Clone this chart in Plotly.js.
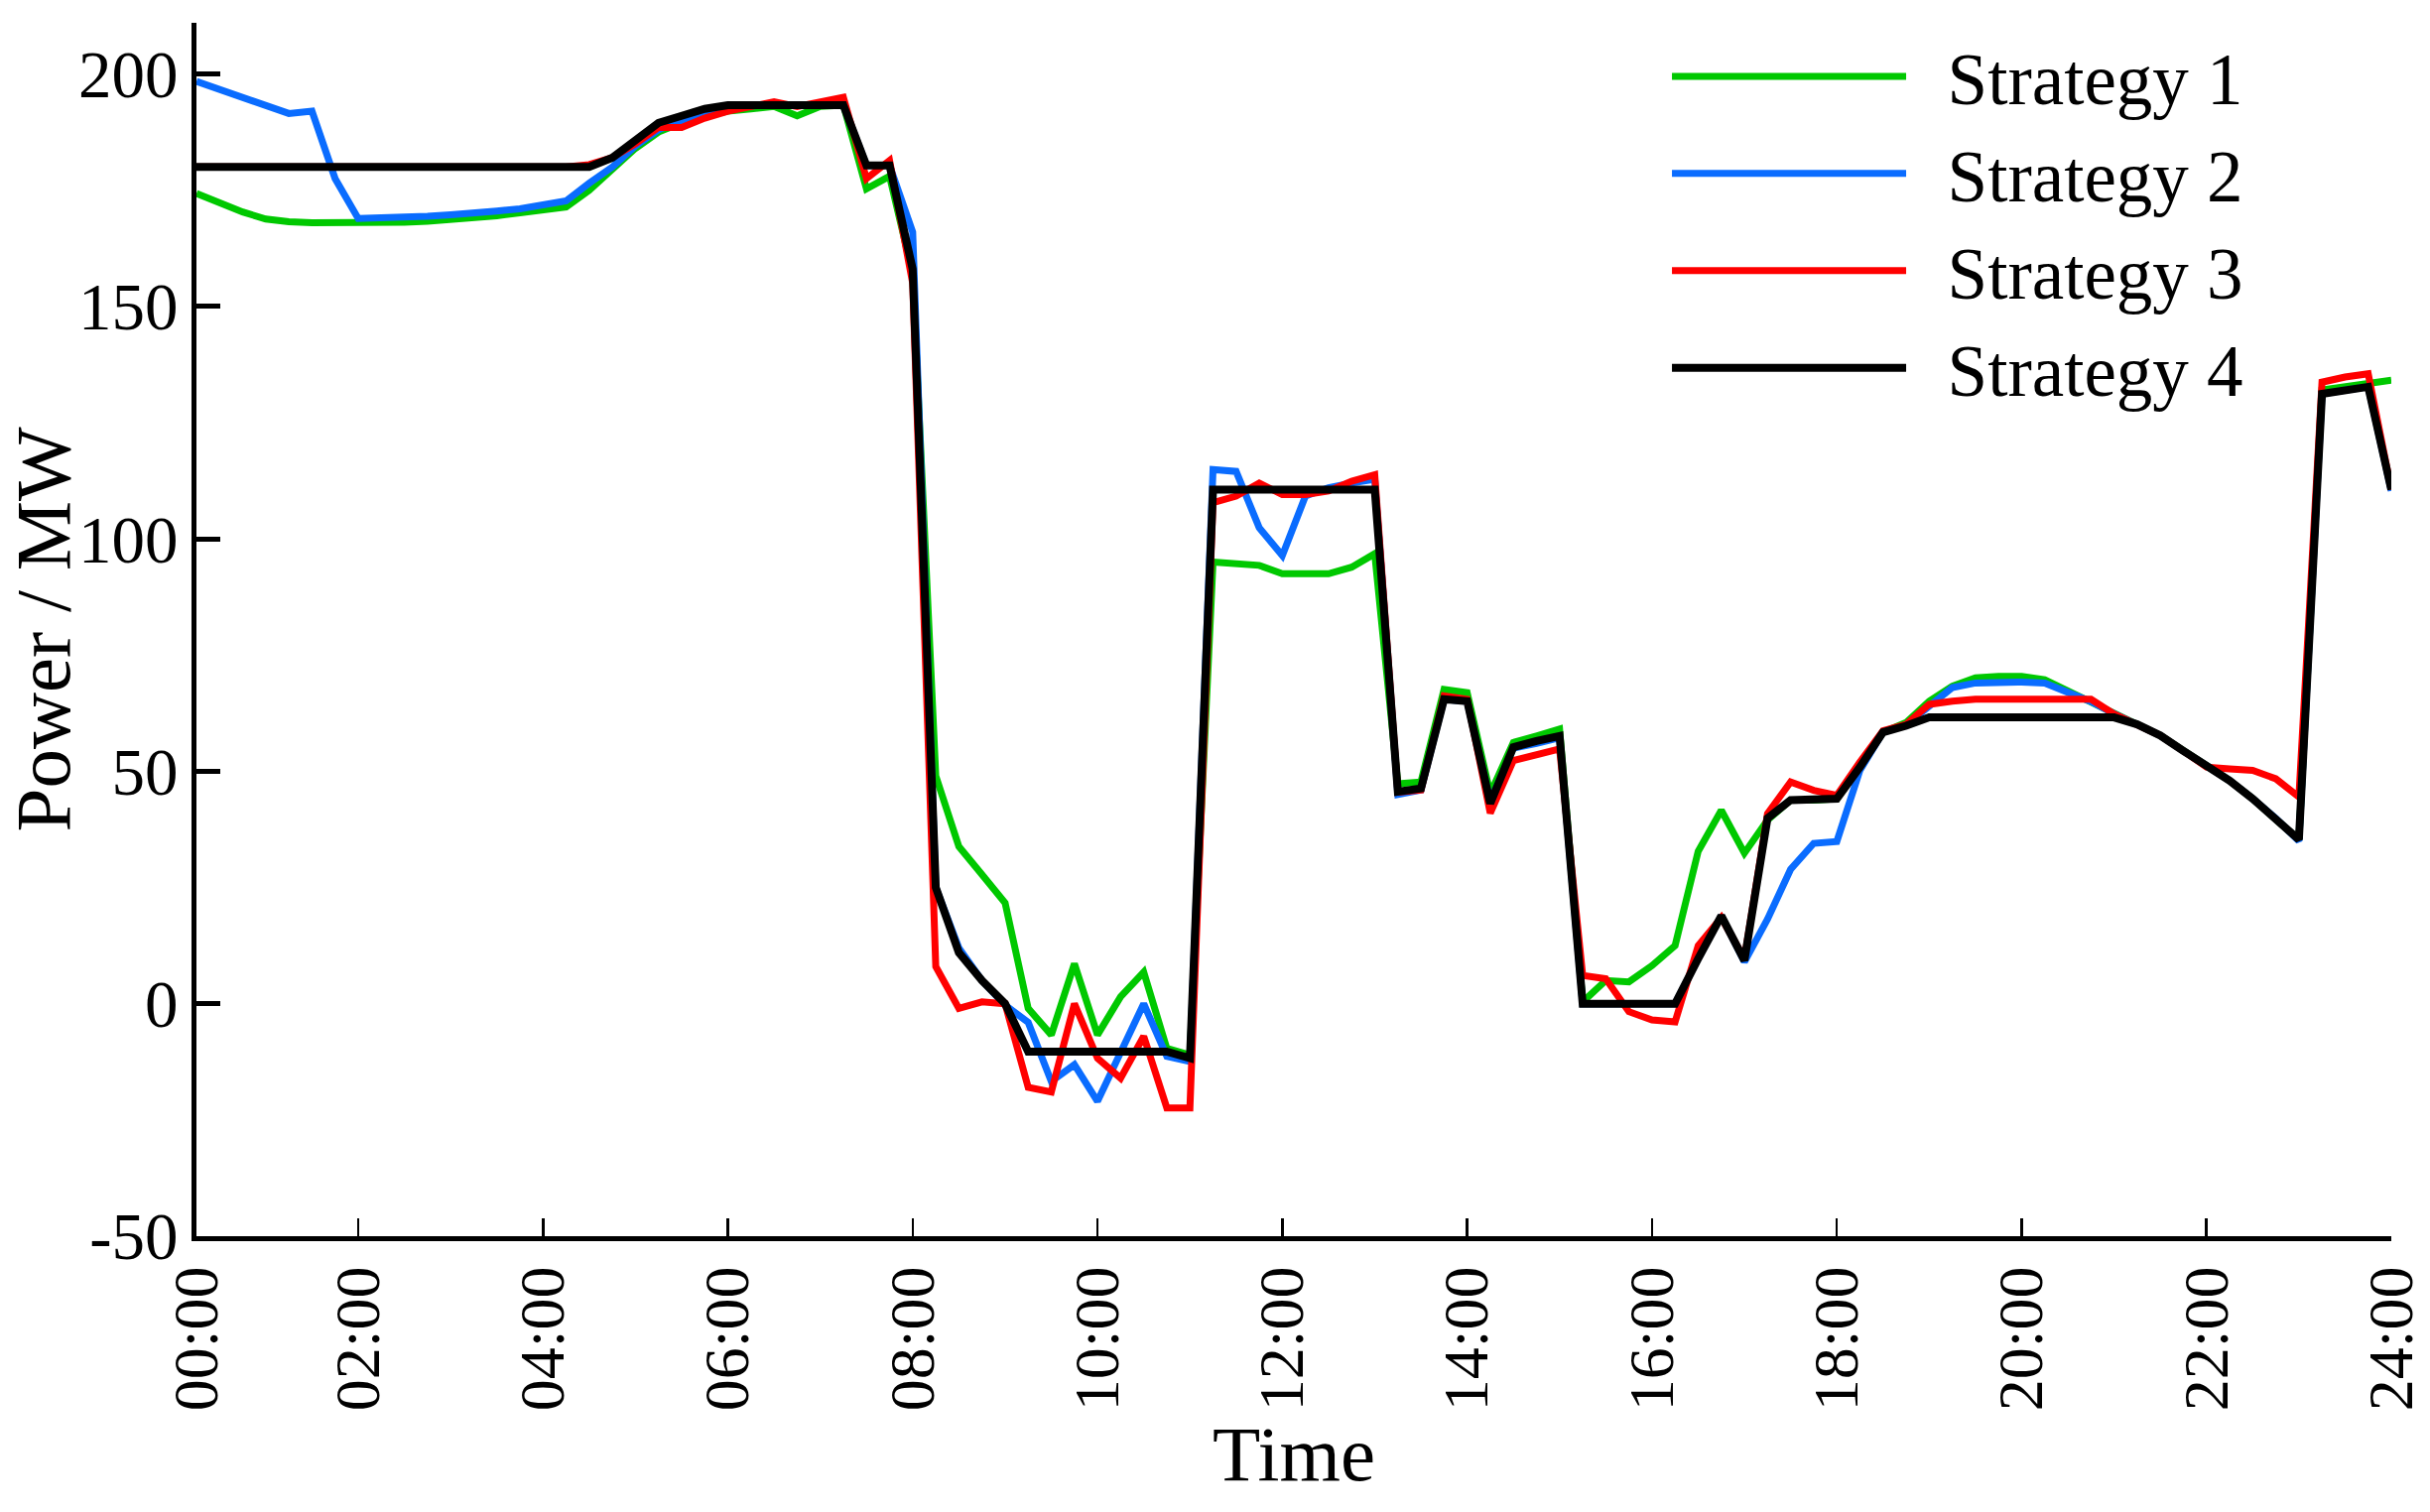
<!DOCTYPE html>
<html>
<head>
<meta charset="utf-8">
<script src="https://cdn.plot.ly/plotly-3.0.1.min.js"></script>
<style>
  html, body { margin: 0; padding: 0; background: #fff; }
  #chart { width: 2449px; height: 1524px; }
</style>
</head>
<body>
<div id="chart"></div>
<script>
// 96 quarter-hour slots (MW)
const strategy1 = [
  174.3, 172.3, 170.3, 168.8, 168.2, 168.0, 168.0, 167.9, 168.0, 168.1,
  168.3, 168.6, 169.0, 169.5, 170.1, 170.8, 171.4, 175.0, 179.5, 184.0,
  187.5, 189.5, 191.0, 192.0, 192.5, 193.0, 191.0, 193.0, 193.3, 175.3,
  178.0, 157.0, 49.0, 33.8, 27.8, 21.7, -1.0, -6.7, 8.6, -6.7,
  1.5, 6.8, -9.6, -11.0, 95.0, 94.6, 94.3, 92.5, 92.5, 92.5,
  93.9, 96.8, 47.3, 47.7, 67.6, 66.9, 45.2, 56.2, 57.6, 59.1,
  0.4, 5.0, 4.7, 8.2, 12.5, 32.8, 41.6, 32.4, 39.5, 43.8,
  43.8, 44.1, 51.0, 58.4, 60.5, 65.1, 68.3, 70.1, 70.4, 70.4,
  69.7, 67.2, 65.1, 62.6, 60.1, 57.7, 54.4, 51.2, 48.0, 44.1,
  39.9, 35.3, 132.0, 132.7, 133.4, 134.1
];
const strategy2 = [
  198.4, 196.6, 194.9, 193.2, 191.5, 192.0, 177.5, 168.9, 169.0, 169.2,
  169.4, 169.7, 170.0, 170.5, 171.0, 171.8, 172.7, 176.5, 180.0, 184.5,
  188.0, 190.0, 192.0, 193.0, 193.3, 193.3, 193.3, 193.3, 193.3, 180.3,
  180.3, 166.0, 25.0, 12.0, 5.0, -0.3, -4.0, -16.7, -13.1, -21.0,
  -10.5, 0.0, -11.3, -12.4, 114.9, 114.5, 102.4, 96.4, 109.2, 111.0,
  112.0, 112.8, 45.0, 46.0, 65.5, 65.0, 43.5, 55.0, 56.0, 57.2,
  0.0, 0.0, 0.0, 0.0, 0.0, 9.7, 18.9, 9.0, 18.2, 28.9,
  34.5, 34.9, 50.2, 58.4, 60.0, 64.0, 68.0, 69.0, 69.2, 69.2,
  69.0, 67.0, 65.0, 62.4, 60.1, 57.7, 54.4, 51.2, 48.0, 44.1,
  39.9, 35.0, 131.2, 132.0, 132.7, 110.3
];
const strategy3 = [
  180.0, 180.0, 180.0, 180.0, 180.0, 180.0, 180.0, 180.0, 180.0, 180.0,
  180.0, 180.0, 180.0, 180.0, 180.0, 180.0, 180.0, 180.5, 182.0, 185.0,
  188.5, 188.5, 190.5, 192.0, 193.0, 194.0, 193.0, 194.0, 195.0, 177.5,
  181.4, 155.0, 8.0, -1.0, 0.4, 0.0, -18.0, -19.0, 0.0, -11.7,
  -16.0, -7.0, -22.4, -22.4, 107.8, 109.2, 112.0, 109.5, 109.5, 110.3,
  112.4, 113.8, 45.5, 46.0, 66.2, 65.5, 41.0, 52.3, 53.4, 54.8,
  6.1, 5.4, -1.7, -3.5, -3.9, 12.5, 18.5, 9.7, 40.9, 47.7,
  45.9, 44.8, 52.0, 58.7, 60.1, 64.4, 65.1, 65.5, 65.5, 65.5,
  65.5, 65.5, 65.5, 62.3, 60.1, 57.7, 54.4, 50.9, 50.5, 50.2,
  48.4, 44.5, 133.7, 134.8, 135.5, 110.6
];
const strategy4 = [
  180.0, 180.0, 180.0, 180.0, 180.0, 180.0, 180.0, 180.0, 180.0, 180.0,
  180.0, 180.0, 180.0, 180.0, 180.0, 180.0, 180.0, 180.0, 182.0, 185.5,
  189.5, 191.0, 192.5, 193.3, 193.3, 193.3, 193.3, 193.3, 193.3, 180.3,
  180.3, 158.0, 25.0, 11.0, 5.0, 0.0, -10.3, -10.3, -10.3, -10.3,
  -10.3, -10.3, -10.3, -11.7, 110.6, 110.6, 110.6, 110.6, 110.6, 110.6,
  110.6, 110.6, 45.6, 46.3, 65.5, 65.1, 43.1, 55.2, 56.5, 57.6,
  0.0, 0.0, 0.0, 0.0, 0.0, 9.7, 18.9, 9.3, 39.9, 43.8,
  43.8, 44.1, 50.9, 58.4, 59.8, 61.6, 61.6, 61.6, 61.6, 61.6,
  61.6, 61.6, 61.6, 61.6, 60.1, 57.7, 54.4, 51.2, 48.0, 44.1,
  39.9, 35.3, 131.2, 132.0, 132.7, 110.6
];

const seriesNames = ['Strategy 1', 'Strategy 2', 'Strategy 3', 'Strategy 4'];
const seriesColors = ['#00c800', '#0a6cff', '#ff0000', '#000000'];
const tickSlots = [1, 8, 16, 24, 32, 40, 48, 56, 64, 72, 80, 88, 96];
const tickLabels = ['00:00', '02:00', '04:00', '06:00', '08:00', '10:00', '12:00',
                    '14:00', '16:00', '18:00', '20:00', '22:00', '24:00'];
const yTicks = [-50, 0, 50, 100, 150, 200];
const yTickLabels = ['-50', '0', '50', '100', '150', '200'];

const slots = strategy1.map((_, k) => k + 1);
const allSeries = [strategy1, strategy2, strategy3, strategy4];

// non-breaking spaces push the legend text away from the long line sample
const traces = allSeries.map((vals, k) => ({
  x: slots,
  y: vals,
  name: '\u00a0\u00a0' + seriesNames[k],
  type: 'scatter',
  mode: 'lines',
  line: { color: seriesColors[k], width: k === 3 ? 8 : 7 },
  hoverinfo: 'none'
}));

const serif = 'Liberation Serif, Times New Roman, serif';

const layout = {
  width: 2449,
  height: 1524,
  paper_bgcolor: '#fff',
  plot_bgcolor: '#fff',
  font: { family: serif, color: '#000' },
  margin: { l: 198, r: 39, t: 23, b: 278 },
  showlegend: true,
  legend: {
    x: 0.67, y: 1.0, xanchor: 'left', yanchor: 'top',
    font: { family: serif, size: 73, color: '#000' },
    itemwidth: 236,
    bgcolor: 'rgba(0,0,0,0)'
  },
  xaxis: {
    range: [1, 96],
    tickmode: 'array',
    tickvals: tickSlots,
    ticktext: tickLabels,
    tickangle: -90,
    ticks: 'inside',
    ticklen: 18,
    tickwidth: 2.5,
    tickcolor: '#000',
    tickfont: { family: serif, size: 64 },
    showline: true,
    linecolor: '#000',
    linewidth: 5,
    showgrid: false,
    zeroline: false,
    title: { text: 'Time', font: { family: serif, size: 79 }, standoff: 16 }
  },
  yaxis: {
    range: [-50, 211],
    tickmode: 'array',
    tickvals: yTicks,
    ticktext: yTickLabels,
    ticks: 'inside',
    ticklen: 24,
    tickwidth: 5,
    tickcolor: '#000',
    tickfont: { family: serif, size: 67 },
    showline: true,
    linecolor: '#000',
    linewidth: 5,
    showgrid: false,
    zeroline: false,
    title: { text: 'Power / MW', font: { family: serif, size: 79 }, standoff: 10 }
  }
};

Plotly.newPlot('chart', traces, layout, { staticPlot: true });
</script>
</body>
</html>
